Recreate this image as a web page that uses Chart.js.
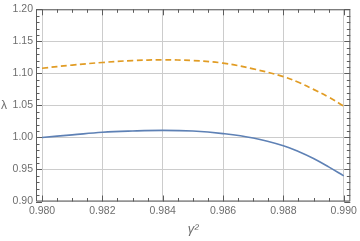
<!DOCTYPE html>
<html>
<head>
<meta charset="utf-8">
<script src="https://cdn.jsdelivr.net/npm/chart.js@4"></script>
<style>
html,body{margin:0;padding:0;background:#fff;}
#wrap{width:360px;height:241px;position:relative;}
</style>
</head>
<body>
<div id="wrap"><canvas id="c" width="360" height="241"></canvas></div>
<script>
const gammaSq = [0.980, 0.981, 0.982, 0.983, 0.984, 0.985, 0.986, 0.987, 0.988, 0.9885, 0.989, 0.9895, 0.990];
const lambdaSolid = [1.000, 1.004, 1.008, 1.010, 1.011, 1.010, 1.006, 0.999, 0.987, 0.978, 0.967, 0.954, 0.940];
const lambdaDashed = [1.108, 1.113, 1.117, 1.120, 1.121, 1.120, 1.116, 1.107, 1.095, 1.086, 1.075, 1.063, 1.049];
const xTicks = [0.980, 0.982, 0.984, 0.986, 0.988, 0.990];
const yTicks = [0.90, 0.95, 1.00, 1.05, 1.10, 1.15, 1.20];

const labelColor = '#6e6e6e';
const frameColor = '#5c5c5c';
const gridColor = '#cccccc';

const framePlugin = {
  id: 'frame',
  afterDatasetsDraw(chart) {
    const ctx = chart.ctx;
    const xs = chart.scales.x, ys = chart.scales.y;
    const L = xs.left, R = xs.right, T = ys.top, B = ys.bottom;
    ctx.save();
    ctx.strokeStyle = frameColor;
    ctx.lineWidth = 1;
    ctx.beginPath();
    ctx.rect(L + 0.5, T + 0.5, R - L - 1, B - T - 1);
    ctx.stroke();
    ctx.beginPath();
    for (let i = 0; i <= 20; i++) {
      const v = 0.980 + i * 0.0005;
      const px = Math.round(xs.getPixelForValue(v)) + 0.5;
      const len = (i % 4 === 0) ? 6 : 3.5;
      ctx.moveTo(px, B); ctx.lineTo(px, B - len);
      ctx.moveTo(px, T); ctx.lineTo(px, T + len);
    }
    for (let i = 0; i <= 30; i++) {
      const v = 0.90 + i * 0.01;
      const py = Math.round(ys.getPixelForValue(v)) + 0.5;
      const len = (i % 5 === 0) ? 6 : 3.5;
      ctx.moveTo(L, py); ctx.lineTo(L + len, py);
      ctx.moveTo(R, py); ctx.lineTo(R - len, py);
    }
    ctx.stroke();
    ctx.fillStyle = labelColor;
    ctx.font = '12px "Liberation Sans", Arial, sans-serif';
    ctx.textAlign = 'left';
    ctx.textBaseline = 'middle';
    ctx.fillText('λ', 1, (T + B) / 2);
    ctx.restore();
  }
};

new Chart(document.getElementById('c'), {
  type: 'line',
  data: {
    datasets: [
      {
        data: gammaSq.map((x, i) => ({x, y: lambdaSolid[i]})),
        borderColor: '#5e81b5',
        borderWidth: 1.6,
        pointRadius: 0,
        tension: 0.4,
        fill: false
      },
      {
        data: gammaSq.map((x, i) => ({x, y: lambdaDashed[i]})),
        borderColor: '#e19c24',
        borderWidth: 1.7,
        borderDash: [6, 3.5],
        pointRadius: 0,
        tension: 0.4,
        fill: false
      }
    ]
  },
  options: {
    responsive: false,
    animation: false,
    plugins: { legend: { display: false }, tooltip: { enabled: false } },
    layout: { padding: { top: 6, right: 8, bottom: 0, left: 0 } },
    scales: {
      x: {
        type: 'linear',
        min: 0.9798,
        max: 0.99022,
        afterBuildTicks(scale) { scale.ticks = xTicks.map(v => ({value: v})); },
        afterFit(scale) { scale.height = 39.5; },
        ticks: {
          color: labelColor,
          font: { family: '"Liberation Sans", Arial, sans-serif', size: 10.5 },
          padding: 3,
          maxRotation: 0,
          autoSkip: false,
          callback: v => v.toFixed(3)
        },
        grid: { color: gridColor, lineWidth: 1, drawTicks: false },
        border: { display: false },
        title: {
          display: true,
          text: 'γ²',
          color: labelColor,
          font: { family: '"Liberation Sans", Arial, sans-serif', size: 13, style: 'italic' },
          padding: { top: 0, bottom: 4 }
        }
      },
      y: {
        type: 'linear',
        min: 0.90,
        max: 1.20,
        afterBuildTicks(scale) { scale.ticks = yTicks.map(v => ({value: v})); },
        afterFit(scale) { scale.width = 36; },
        ticks: {
          color: labelColor,
          font: { family: '"Liberation Sans", Arial, sans-serif', size: 10.5 },
          padding: 3,
          autoSkip: false,
          callback: v => v.toFixed(2)
        },
        grid: { color: gridColor, lineWidth: 1, drawTicks: false },
        border: { display: false }
      }
    }
  },
  plugins: [framePlugin]
});
</script>
</body>
</html>
